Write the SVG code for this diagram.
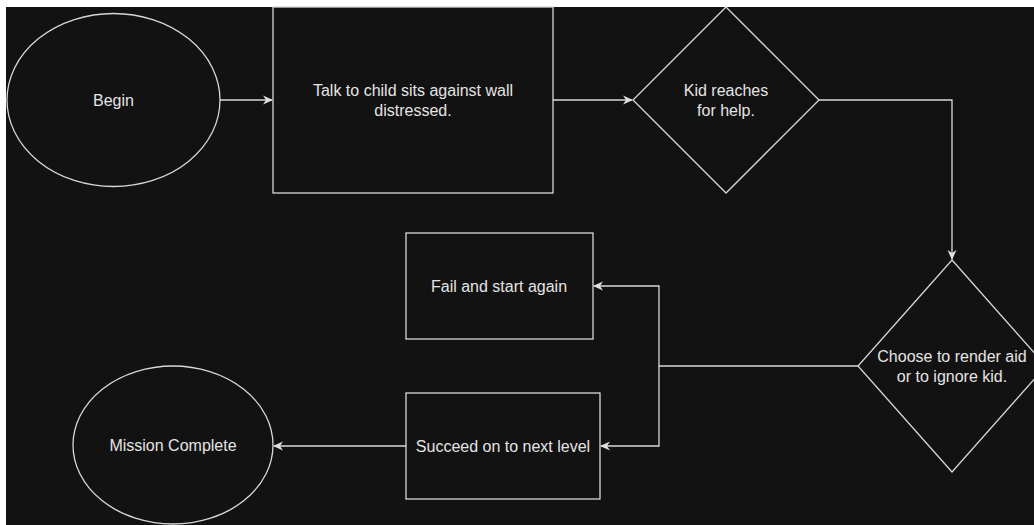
<svg xmlns="http://www.w3.org/2000/svg" width="1034" height="525" viewBox="0 0 1034 525">
<defs>
<style>
.shape{fill:#121212;stroke:#d8d8d8;stroke-width:1.3}
.conn{fill:none;stroke:#d8d8d8;stroke-width:1.3}
.lbl{font-family:"Liberation Sans",Arial,sans-serif;font-size:16px;fill:#e4e4e4;text-anchor:middle}
</style>
<marker id="arr" viewBox="0 0 10 10" refX="9" refY="5" markerWidth="10" markerHeight="10" markerUnits="userSpaceOnUse" orient="auto">
<path d="M0,0.5 L10,5 L0,9.5 L3,5 Z" fill="#e0e0e0"/>
</marker>
</defs>
<rect x="0" y="0" width="1034" height="525" fill="#ffffff"/>
<rect x="6" y="7" width="1028" height="518" fill="#121212"/>
<g id="connectors">
<path class="conn" d="M220,100 L272,100" marker-end="url(#arr)"/>
<path class="conn" d="M553,100 L632,100" marker-end="url(#arr)"/>
<path class="conn" d="M819,100 L952,100 L952,259" marker-end="url(#arr)"/>
<path class="conn" d="M858,366 L659,366 L659,286 L594,286" marker-end="url(#arr)"/>
<path class="conn" d="M659,366 L659,446 L601,446" marker-end="url(#arr)"/>
<path class="conn" d="M406,446 L274,446" marker-end="url(#arr)"/>
</g>
<g id="begin">
<ellipse class="shape" cx="113.5" cy="100" rx="106.5" ry="86.5"/>
<text class="lbl" x="113.5" y="105.5">Begin</text>
</g>
<g id="talk">
<rect class="shape" x="273" y="7" width="280" height="186"/>
<text class="lbl" x="413" y="95.5">Talk to child sits against wall</text>
<text class="lbl" x="413" y="115.5">distressed.</text>
</g>
<g id="kid">
<polygon class="shape" points="726,7 819,100 726,193 633,100"/>
<text class="lbl" x="726" y="95.5">Kid reaches</text>
<text class="lbl" x="726" y="115.5">for help.</text>
</g>
<g id="choose">
<polygon class="shape" points="952,260 1046,366 952,472 858,366"/>
<text class="lbl" x="952" y="362">Choose to render aid</text>
<text class="lbl" x="952" y="382">or to ignore kid.</text>
</g>
<g id="fail">
<rect class="shape" x="406" y="233" width="187" height="106"/>
<text class="lbl" x="499" y="291.5">Fail and start again</text>
</g>
<g id="succeed">
<rect class="shape" x="406" y="393" width="194" height="106"/>
<text class="lbl" x="503" y="451.5">Succeed on to next level</text>
</g>
<g id="mission">
<ellipse class="shape" cx="173" cy="445" rx="100" ry="79"/>
<text class="lbl" x="173" y="450.5">Mission Complete</text>
</g>
</svg>
